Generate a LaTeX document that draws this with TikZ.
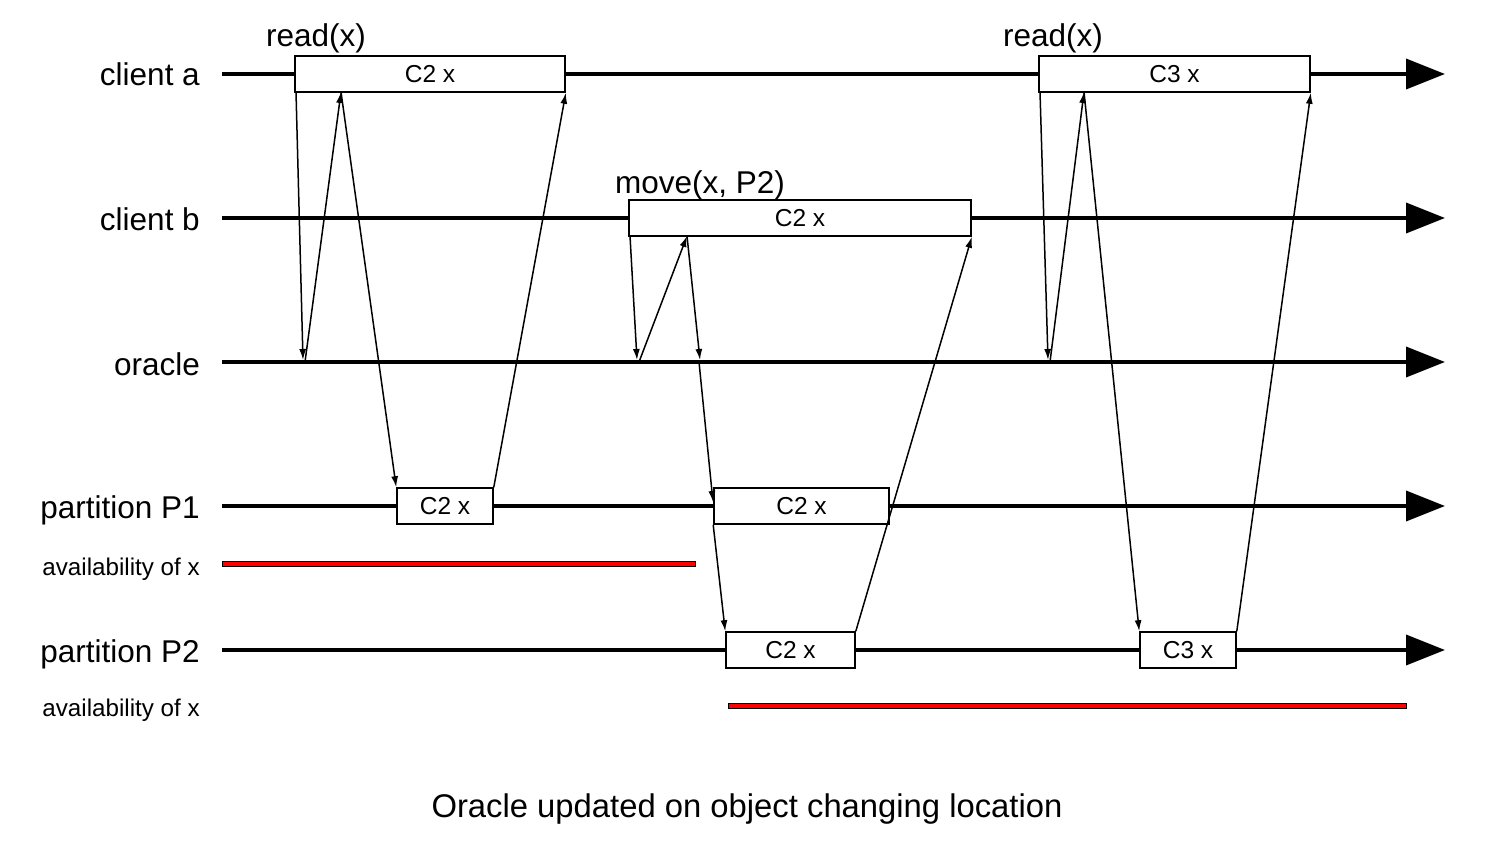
\documentclass[tikz,border=0pt]{standalone}
\usepackage{fontspec}
\setmainfont{Liberation Sans}
\usetikzlibrary{arrows.meta}
\begin{document}
\begin{tikzpicture}[x=1pt,y=-1pt,
  timeline/.style={line width=3.8pt,-{Triangle[length=39pt,width=30pt]}},
  box/.style={draw,fill=white,line width=1.6pt,minimum height=36pt,inner sep=0pt,font=\fontsize{24.5}{29}\selectfont},
  msg/.style={line width=1.5pt,-{Latex[length=11pt,width=7pt]}},
  avail/.style={draw=black,fill=red,line width=1pt},
  lbl/.style={anchor=base east,inner sep=0pt,font=\fontsize{31.5}{37}\selectfont},
  small/.style={anchor=base east,inner sep=0pt,font=\fontsize{24.2}{28}\selectfont},
  op/.style={anchor=base west,inner sep=0pt,font=\fontsize{31.5}{37}\selectfont}]
\useasboundingbox (0,0) rectangle (1490,846);

% lane labels
\node[lbl] (la) at (200,85) {client a};
\node[lbl] (lb) at (200,230) {client b};
\node[lbl] (lo) at (200,375) {oracle};
\node[lbl] (lp1) at (200,518) {partition P1};
\node[small] (lv1) at (200,575) {availability of x};
\node[lbl] (lp2) at (200,662) {partition P2};
\node[small] (lv2) at (200,716) {availability of x};

% timelines
\coordinate (sa) at (222,74);  \coordinate (ea) at (1445,74);
\coordinate (sb) at (222,218); \coordinate (eb) at (1445,218);
\coordinate (so) at (222,362); \coordinate (eo) at (1445,362);
\coordinate (s1) at (222,506); \coordinate (e1) at (1445,506);
\coordinate (s2) at (222,650); \coordinate (e2) at (1445,650);
\draw[timeline] (sa) -- (ea);
\draw[timeline] (sb) -- (eb);
\draw[timeline] (so) -- (eo);
\draw[timeline] (s1) -- (e1);
\draw[timeline] (s2) -- (e2);

% availability bars
\draw[avail] (222,561.5) rectangle (695,566.5);
\draw[avail] (728,703.5) rectangle (1406,708.5);

% boxes
\node[box,minimum width=270pt] (a1) at (430,74) {C2 x};
\node[box,minimum width=271pt] (a2) at (1174.5,74) {C3 x};
\node[box,minimum width=342pt] (b1) at (800,218) {C2 x};
\node[box,minimum width=96pt] (p1a) at (445,506) {C2 x};
\node[box,minimum width=175pt] (p1b) at (801.5,506) {C2 x};
\node[box,minimum width=129pt] (p2a) at (790.5,650) {C2 x};
\node[box,minimum width=96pt] (p2b) at (1188,650) {C3 x};

% operation labels
\node[op] (r1) at (266,46) {read(x)};
\node[op] (mv) at (615,193) {move(x, P2)};
\node[op] (r2) at (1003,46) {read(x)};

% message points
\coordinate (a1q) at (296,92);
\coordinate (o1) at (303,360);
\coordinate (o1s) at (305,362);
\coordinate (a1r) at (341,92);
\coordinate (b1q) at (630,236);
\coordinate (o2) at (637,360);
\coordinate (o2s) at (639,362);
\coordinate (b1r) at (687,236);
\coordinate (o3) at (700,360);
\coordinate (o3s) at (699,362);
\coordinate (p1bt) at (713,502);
\coordinate (a2q) at (1040,92);
\coordinate (o4) at (1048,360);
\coordinate (o4s) at (1050,362);
\coordinate (a2r) at (1084,92);

% messages
\draw[msg] (a1q) -- (o1);
\draw[msg] (o1s) -- (a1r);
\draw[msg] (a1r) -- (p1a.north west);
\draw[msg] (p1a.north east) -- (a1.south east);
\draw[msg] (b1q) -- (o2);
\draw[msg] (o2s) -- (b1r);
\draw[msg] (b1r) -- (o3);
\draw[msg] (o3s) -- (p1bt);
\draw[msg] (p1b.south west) -- (p2a.north west);
\draw[msg] (p2a.north east) -- (b1.south east);
\draw[msg] (a2q) -- (o4);
\draw[msg] (o4s) -- (a2r);
\draw[msg] (a2r) -- (p2b.north west);
\draw[msg] (p2b.north east) -- (a2.south east);

% caption
\node[anchor=base,inner sep=0pt,font=\fontsize{32.8}{38}\selectfont] (cap) at (747,817) {Oracle updated on object changing location};
\end{tikzpicture}
\end{document}
